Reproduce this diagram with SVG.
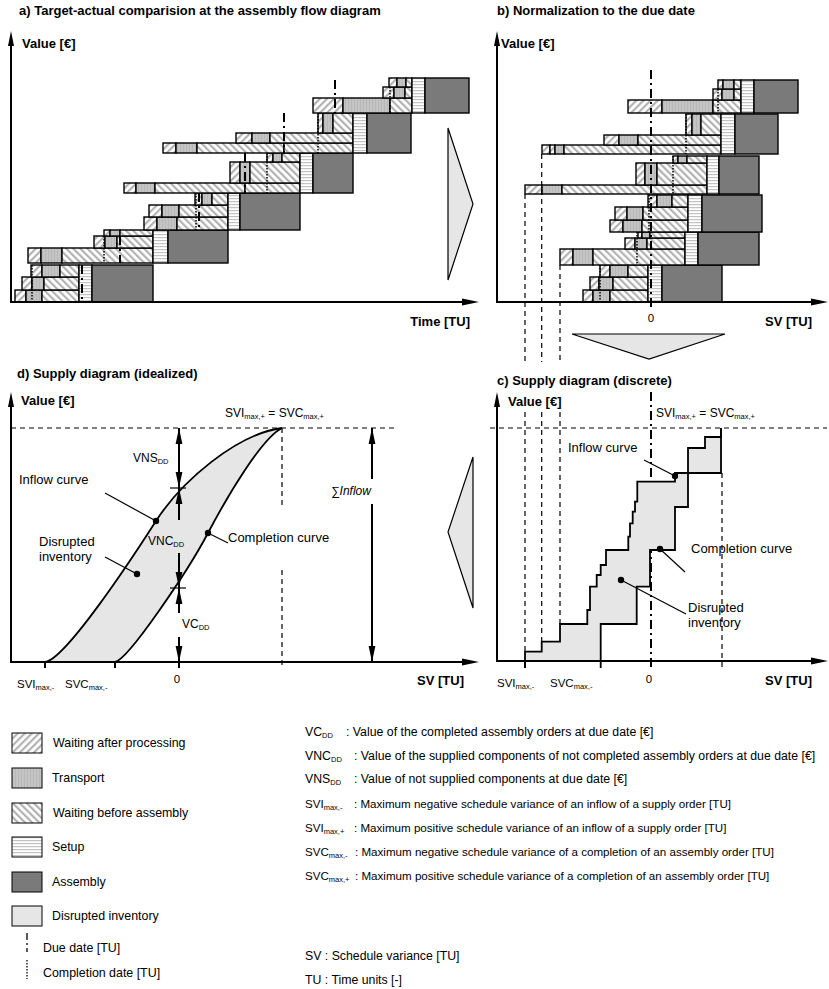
<svg xmlns="http://www.w3.org/2000/svg" width="829" height="989" viewBox="0 0 829 989">
<style>
text{font-family:"Liberation Sans",Arial,sans-serif;fill:#000}
.ttl{font-size:13px;font-weight:bold}
.ax{font-size:13px;font-weight:bold}
.lbl{font-size:13px}
.sm{font-size:12px}
.tk{font-size:11.5px}
.leg{font-size:12.4px}
.def{font-size:11.6px}
.defl{font-size:12.3px}
.sub{font-size:7.5px}
.axis{stroke:#000;stroke-width:2;fill:none}
.wa{fill:url(#pWA);stroke:#000;stroke-width:1.4}
.tr{fill:url(#pTR);stroke:#000;stroke-width:1.4}
.wb{fill:url(#pWB);stroke:#000;stroke-width:1.4}
.su{fill:url(#pSU);stroke:#000;stroke-width:1.4}
.as{fill:#7a7a7a;stroke:#000;stroke-width:1.4}
.inv{fill:#e6e6e6;stroke:#000;stroke-width:1.2}
.due{stroke:#000;stroke-width:2;stroke-dasharray:9 4 2 4;fill:none}
.cmp{stroke:#000;stroke-width:1.5;stroke-dasharray:1.5 1.5;fill:none}
.dash{stroke:#000;stroke-width:1.2;stroke-dasharray:5 4;fill:none}
.curve{stroke:#000;stroke-width:1.8;fill:none}
.lead{stroke:#000;stroke-width:1.2;fill:none}
.vln{stroke:#000;stroke-width:2;fill:none}
.tri{fill:#e6e6e6;stroke:#000;stroke-width:1.2}
</style>
<defs>
  <pattern id="pWA" width="5" height="5" patternUnits="userSpaceOnUse" patternTransform="rotate(45)">
    <rect width="5" height="5" fill="#fff"/><rect width="2.2" height="5" fill="#b2b2b2"/>
  </pattern>
  <pattern id="pWB" width="5" height="5" patternUnits="userSpaceOnUse" patternTransform="rotate(-45)">
    <rect width="5" height="5" fill="#fff"/><rect width="2.2" height="5" fill="#b2b2b2"/>
  </pattern>
  <pattern id="pTR" width="3" height="3" patternUnits="userSpaceOnUse">
    <rect width="3" height="3" fill="#c4c4c4"/><rect width="1" height="3" fill="#b8b8b8"/>
  </pattern>
  <pattern id="pSU" width="3" height="3" patternUnits="userSpaceOnUse">
    <rect width="3" height="3" fill="#fff"/><rect width="3" height="1.2" fill="#c2c2c2"/>
  </pattern>
  <marker id="ah" viewBox="0 0 16 8" refX="16" refY="4" markerWidth="16" markerHeight="8" markerUnits="userSpaceOnUse" orient="auto-start-reverse">
    <path d="M0,0.6 L16,4 L0,7.4 z" fill="#000"/>
  </marker>
</defs>
<rect width="829" height="989" fill="#fff"/>

<!-- a) assembly flow diagram -->
<g id="panel-a">
  <text class="ttl" x="19" y="15">a) Target-actual comparision at the assembly flow diagram</text>
  <text class="ax" x="22" y="48">Value [€]</text>
  <text class="ax" x="470" y="326" text-anchor="end">Time [TU]</text>
  <g id="a-order-1">
    <rect class="wa" x="15" y="290" width="11" height="12"/><rect class="tr" x="26" y="290" width="16" height="12"/><rect class="wb" x="42" y="290" width="37" height="12"/>
    <rect class="wa" x="22" y="277" width="10" height="13"/><rect class="tr" x="32" y="277" width="12" height="13"/><rect class="wb" x="44" y="277" width="35" height="13"/>
    <rect class="wa" x="31" y="265" width="11" height="12"/><rect class="tr" x="42" y="265" width="18" height="12"/><rect class="wb" x="60" y="265" width="19" height="12"/>
    <rect class="su" x="79" y="265" width="13" height="37"/><rect class="as" x="92" y="265" width="61" height="37"/>
    <line class="cmp" x1="32" y1="265" x2="32" y2="302"/><line class="due" x1="82" y1="265" x2="82" y2="302"/>
  </g>
  <g id="a-order-2">
    <rect class="wa" x="28" y="248" width="13" height="15"/><rect class="tr" x="41" y="248" width="21" height="15"/><rect class="wb" x="62" y="248" width="91" height="15"/>
    <rect class="wa" x="94" y="236" width="11" height="12"/><rect class="tr" x="105" y="236" width="12" height="12"/><rect class="wb" x="117" y="236" width="36" height="12"/>
    <rect class="wa" x="104" y="230" width="6" height="6"/><rect class="tr" x="110" y="230" width="10" height="6"/><rect class="wb" x="120" y="230" width="33" height="6"/>
    <rect class="su" x="153" y="230" width="15" height="33"/><rect class="as" x="168" y="230" width="60" height="33"/>
    <line class="cmp" x1="104" y1="236" x2="104" y2="263"/><line class="due" x1="120" y1="236" x2="120" y2="263"/>
  </g>
  <g id="a-order-3">
    <rect class="wa" x="144" y="217" width="13" height="13"/><rect class="tr" x="157" y="217" width="20" height="13"/><rect class="wb" x="177" y="217" width="51" height="13"/>
    <rect class="wa" x="149" y="205" width="13" height="12"/><rect class="tr" x="162" y="205" width="17" height="12"/><rect class="wb" x="179" y="205" width="49" height="12"/>
    <rect class="wa" x="195" y="193" width="7" height="12"/><rect class="tr" x="202" y="193" width="10" height="12"/><rect class="wb" x="212" y="193" width="16" height="12"/>
    <rect class="su" x="228" y="193" width="12" height="37"/><rect class="as" x="240" y="193" width="60" height="37"/>
    <line class="cmp" x1="196" y1="193" x2="196" y2="230"/><line class="due" x1="199" y1="193" x2="199" y2="230"/>
  </g>
  <g id="a-order-4">
    <rect class="wa" x="124" y="183" width="12" height="10"/><rect class="tr" x="136" y="183" width="19" height="10"/><rect class="wb" x="155" y="183" width="90" height="10"/><rect class="wb" x="245" y="183" width="55" height="10"/>
    <rect class="wa" x="230" y="162" width="10" height="21"/><rect class="tr" x="240" y="162" width="10" height="21"/><rect class="wb" x="250" y="162" width="50" height="21"/>
    <rect class="wa" x="267" y="153" width="6" height="9"/><rect class="tr" x="273" y="153" width="9" height="9"/><rect class="wb" x="282" y="153" width="18" height="9"/>
    <rect class="su" x="300" y="153" width="13" height="40"/><rect class="as" x="313" y="153" width="40" height="40"/>
    <line class="due" x1="245" y1="153" x2="245" y2="193"/><line class="cmp" x1="267" y1="153" x2="267" y2="193"/>
  </g>
  <g id="a-order-5">
    <rect class="wa" x="163" y="143" width="13" height="10"/><rect class="tr" x="176" y="143" width="21" height="10"/><rect class="wb" x="197" y="143" width="87" height="10"/><rect class="wb" x="284" y="143" width="69" height="10"/>
    <rect class="wa" x="236" y="133" width="16" height="10"/><rect class="tr" x="252" y="133" width="18" height="10"/><rect class="wb" x="270" y="133" width="83" height="10"/>
    <rect class="wa" x="318" y="113" width="5" height="20"/><rect class="tr" x="323" y="113" width="10" height="20"/><rect class="wb" x="333" y="113" width="20" height="20"/>
    <rect class="su" x="353" y="113" width="14" height="40"/><rect class="as" x="367" y="113" width="44" height="40"/>
    <line class="due" x1="284" y1="113" x2="284" y2="153"/><line class="cmp" x1="318" y1="113" x2="318" y2="153"/>
  </g>
  <g id="a-order-6">
    <rect class="wa" x="313" y="98" width="30" height="15"/><rect class="tr" x="343" y="98" width="47" height="15"/><rect class="wb" x="390" y="98" width="22" height="15"/>
    <rect class="wa" x="383" y="87" width="11" height="11"/><rect class="tr" x="394" y="87" width="11" height="11"/><rect class="wb" x="405" y="87" width="7" height="11"/>
    <rect class="wa" x="389" y="78" width="8" height="9"/><rect class="tr" x="397" y="78" width="9" height="9"/><rect class="wb" x="406" y="78" width="6" height="9"/>
    <rect class="su" x="412" y="78" width="13" height="35"/><rect class="as" x="425" y="78" width="44" height="35"/>
    <line class="due" x1="335" y1="80" x2="335" y2="113"/><line class="cmp" x1="390" y1="87" x2="390" y2="113"/>
  </g>
  <line class="axis" x1="11" y1="302" x2="11" y2="42"/>
  <polygon points="11,31 8,46 14,46"/>
  <line class="axis" x1="10" y1="302" x2="464" y2="302"/>
  <polygon points="479,302 462,298.5 462,305.5"/>
</g>

<!-- b) normalised to due date -->
<g id="panel-b">
  <text class="ttl" x="497" y="15">b) Normalization to the due date</text>
  <text class="ax" x="501" y="48">Value [€]</text>
  <text class="tk" x="651" y="322" text-anchor="middle">0</text>
  <text class="ax" x="812" y="326" text-anchor="end">SV [TU]</text>
  <g id="b-order-1">
    <rect class="wa" x="583" y="290" width="10" height="12"/><rect class="tr" x="593" y="290" width="17" height="12"/><rect class="wb" x="610" y="290" width="38" height="12"/>
    <rect class="wa" x="590" y="277" width="9" height="13"/><rect class="tr" x="599" y="277" width="14" height="13"/><rect class="wb" x="613" y="277" width="35" height="13"/>
    <rect class="wa" x="600" y="265" width="10" height="12"/><rect class="tr" x="610" y="265" width="18" height="12"/><rect class="wb" x="628" y="265" width="20" height="12"/>
    <rect class="su" x="648" y="265" width="14" height="37"/><rect class="as" x="662" y="265" width="60" height="37"/>
    <line class="cmp" x1="600" y1="265" x2="600" y2="302"/>
  </g>
  <g id="b-order-2">
    <rect class="wa" x="560" y="249" width="13" height="16"/><rect class="tr" x="573" y="249" width="20" height="16"/><rect class="wb" x="593" y="249" width="92" height="16"/>
    <rect class="wa" x="625" y="238" width="10" height="11"/><rect class="tr" x="635" y="238" width="12" height="11"/><rect class="wb" x="647" y="238" width="38" height="11"/>
    <rect class="wa" x="638" y="232" width="4" height="6"/><rect class="tr" x="642" y="232" width="8" height="6"/><rect class="wb" x="650" y="232" width="35" height="6"/>
    <rect class="su" x="685" y="232" width="13" height="33"/><rect class="as" x="698" y="232" width="61" height="33"/>
    <line class="cmp" x1="637" y1="232" x2="637" y2="265"/>
  </g>
  <g id="b-order-3">
    <rect class="wa" x="610" y="220" width="13" height="12"/><rect class="tr" x="623" y="220" width="19" height="12"/><rect class="wb" x="642" y="220" width="46" height="12"/>
    <rect class="wa" x="615" y="207" width="12" height="13"/><rect class="tr" x="627" y="207" width="16" height="13"/><rect class="wb" x="643" y="207" width="45" height="13"/>
    <rect class="wa" x="648" y="195" width="9" height="12"/><rect class="tr" x="657" y="195" width="15" height="12"/><rect class="wb" x="672" y="195" width="16" height="12"/>
    <rect class="su" x="688" y="195" width="14" height="37"/><rect class="as" x="702" y="195" width="60" height="37"/>
    <line class="cmp" x1="649" y1="195" x2="649" y2="232"/>
  </g>
  <g id="b-order-4">
    <rect class="wa" x="525" y="185" width="17" height="9"/><rect class="tr" x="542" y="185" width="20" height="9"/><rect class="wb" x="562" y="185" width="145" height="9"/>
    <rect class="wa" x="636" y="163" width="9" height="22"/><rect class="tr" x="645" y="163" width="12" height="22"/><rect class="wb" x="657" y="163" width="50" height="22"/>
    <rect class="wa" x="673" y="156" width="5" height="7"/><rect class="tr" x="678" y="156" width="9" height="7"/><rect class="wb" x="687" y="156" width="20" height="7"/>
    <rect class="su" x="707" y="156" width="12" height="38"/><rect class="as" x="719" y="156" width="40" height="38"/>
    <line class="cmp" x1="673" y1="156" x2="673" y2="194"/>
  </g>
  <g id="b-order-5">
    <rect class="wa" x="542" y="145" width="8" height="9"/><rect class="wa" x="550" y="145" width="5" height="9"/><rect class="tr" x="555" y="145" width="9" height="9"/><rect class="wb" x="564" y="145" width="157" height="9"/>
    <rect class="wa" x="604" y="135" width="15" height="10"/><rect class="tr" x="619" y="135" width="19" height="10"/><rect class="wb" x="638" y="135" width="83" height="10"/>
    <rect class="wa" x="686" y="114" width="6" height="21"/><rect class="tr" x="692" y="114" width="9" height="21"/><rect class="wb" x="701" y="114" width="20" height="21"/>
    <rect class="su" x="721" y="114" width="14" height="40"/><rect class="as" x="735" y="114" width="43" height="40"/>
    <line class="cmp" x1="686" y1="114" x2="686" y2="154"/>
  </g>
  <g id="b-order-6">
    <rect class="wa" x="628" y="100" width="34" height="13"/><rect class="tr" x="662" y="100" width="51" height="13"/><rect class="wb" x="713" y="100" width="28" height="13"/>
    <rect class="wa" x="713" y="89" width="9" height="11"/><rect class="tr" x="722" y="89" width="12" height="11"/><rect class="wb" x="734" y="89" width="7" height="11"/>
    <rect class="wa" x="718" y="80" width="5" height="9"/><rect class="tr" x="723" y="80" width="11" height="9"/><rect class="wb" x="734" y="80" width="7" height="9"/>
    <rect class="su" x="741" y="80" width="13" height="33"/><rect class="as" x="754" y="80" width="44" height="33"/>
    <line class="cmp" x1="718" y1="89" x2="718" y2="113"/>
  </g>
  <line class="due" x1="651" y1="70" x2="651" y2="310"/>
  <line class="axis" x1="497" y1="302" x2="497" y2="42"/>
  <polygon points="497,31 494,46 500,46"/>
  <line class="axis" x1="496" y1="302" x2="813" y2="302"/>
  <polygon points="828,302 811,298.5 811,305.5"/>
</g>

<!-- c) discrete supply diagram -->
<g id="panel-c">
  <text class="ttl" x="497" y="385">c) Supply diagram (discrete)</text>
  <line class="dash" x1="490" y1="428" x2="827" y2="428"/>
  <line class="dash" x1="722" y1="473" x2="722" y2="668"/>
  <line class="due" x1="651" y1="392" x2="651" y2="668"/>
  <path class="inv" d="M525,661 V651.7 H541.7 V641.7 H560 V624 H587.3 V610 H590 V586.7 H596.7 V575 H600.7 V565 H606 V550 H628.3 V536.7 H630 V523.3 H632.7 V511.7 H635 V501.7 H637.3 V481.7 H675 V473 H688 V448 H705 V437 H721 V428 V473 H688 V507 H675 V550 H650 V586.7 H636.7 V624 H600.7 V661 Z" style="stroke:none"/>
  <path class="curve" id="c-inflow" d="M525,661 V651.7 H541.7 V641.7 H560 V624 H587.3 V610 H590 V586.7 H596.7 V575 H600.7 V565 H606 V550 H628.3 V536.7 H630 V523.3 H632.7 V511.7 H635 V501.7 H637.3 V481.7 H675 V473 H688 V448 H705 V437 H721 V428"/>
  <path class="curve" id="c-completion" d="M600.7,668 V624 H636.7 V586.7 H650 V550 H675 V507 H688 V473 H721 V428"/>
  <line class="vln" x1="525" y1="661" x2="525" y2="668"/>
  <text class="ax" x="508" y="406">Value [€]</text>
  <text class="sm" x="656" y="417">SVI<tspan class="sub" dy="2">max,+</tspan><tspan dy="-2"> = SVC</tspan><tspan class="sub" dy="2">max,+</tspan></text>
  <g id="c-label-inflow">
    <text class="lbl" x="568" y="452">Inflow curve</text>
    <line class="lead" x1="644" y1="460" x2="675" y2="476"/><circle cx="675" cy="476" r="3.2"/>
  </g>
  <g id="c-label-completion">
    <text class="lbl" x="691" y="553">Completion curve</text>
    <line class="lead" x1="660" y1="549" x2="685" y2="572"/><circle cx="660" cy="549" r="3.2"/>
  </g>
  <g id="c-label-inventory">
    <text class="lbl" x="688" y="612">Disrupted</text>
    <text class="lbl" x="688" y="627">inventory</text>
    <line class="lead" x1="621" y1="580" x2="686" y2="614"/><circle cx="621" cy="580" r="3.2"/>
  </g>
  <line class="axis" x1="497" y1="661" x2="497" y2="403"/>
  <polygon points="497,392 494,407 500,407"/>
  <line class="axis" x1="496" y1="661" x2="813" y2="661"/>
  <polygon points="828,661 811,657.5 811,664.5"/>
  <text class="tk" x="497" y="687">SVI<tspan class="sub" dy="2">max,-</tspan></text>
  <text class="tk" x="550" y="687">SVC<tspan class="sub" dy="2">max,-</tspan></text>
  <text class="tk" x="649" y="683" text-anchor="middle">0</text>
  <text class="ax" x="812" y="685" text-anchor="end">SV [TU]</text>
</g>

<!-- d) idealized supply diagram -->
<g id="panel-d">
  <text class="ttl" x="17" y="378">d) Supply diagram (idealized)</text>
  <text class="ax" x="21" y="405">Value [€]</text>
  <text class="sm" x="225" y="417">SVI<tspan class="sub" dy="2">max,+</tspan><tspan dy="-2"> = SVC</tspan><tspan class="sub" dy="2">max,+</tspan></text>
  <line class="dash" x1="11" y1="428" x2="398" y2="428"/>
  <line class="dash" x1="282" y1="428" x2="282" y2="508"/>
  <line class="dash" x1="282" y1="570" x2="282" y2="667"/>
  <path class="inv" style="stroke:none" d="M45,662 C65,660 131,560 156,521 C181,482 236,434 282,428 C262,438 228,495 208,533 C188,571 128,660 115,662 Z"/>
  <path class="curve" id="d-inflow" d="M45,662 C65,660 131,560 156,521 C181,482 236,434 282,428"/>
  <path class="curve" id="d-completion" d="M115,662 C128,660 188,571 208,533 C228,495 262,438 282,428"/>
  <g id="d-due-arrows">
    <line class="vln" x1="179" y1="428" x2="179" y2="488" marker-start="url(#ah)" marker-end="url(#ah)"/>
    <line class="vln" x1="179" y1="488" x2="179" y2="520" marker-start="url(#ah)"/>
    <line class="vln" x1="179" y1="553" x2="179" y2="588" marker-end="url(#ah)"/>
    <line class="vln" x1="179" y1="588" x2="179" y2="613" marker-start="url(#ah)"/>
    <line class="vln" x1="179" y1="637" x2="179" y2="662" marker-end="url(#ah)"/>
    <line class="vln" x1="179" y1="662" x2="179" y2="668"/>
    <line class="lead" x1="170" y1="488" x2="186" y2="488"/>
    <line class="lead" x1="170" y1="588" x2="186" y2="588"/>
    <text class="sm" x="133" y="462">VNS<tspan class="sub" dy="2">DD</tspan></text>
    <text class="sm" x="148" y="545">VNC<tspan class="sub" dy="2">DD</tspan></text>
    <text class="sm" x="182" y="628">VC<tspan class="sub" dy="2">DD</tspan></text>
  </g>
  <g id="d-sum-inflow">
    <line class="vln" x1="372" y1="428" x2="372" y2="479" marker-start="url(#ah)"/>
    <line class="vln" x1="372" y1="504" x2="372" y2="662" marker-end="url(#ah)"/>
    <text class="sm" x="331" y="495" font-style="italic">∑Inflow</text>
  </g>
  <g id="d-label-inflow">
    <text class="lbl" x="19" y="484">Inflow curve</text>
    <line class="lead" x1="105" y1="493" x2="156" y2="521"/><circle cx="156" cy="521" r="3.2"/>
  </g>
  <g id="d-label-completion">
    <text class="lbl" x="228" y="542">Completion curve</text>
    <line class="lead" x1="208" y1="533" x2="228" y2="543"/><circle cx="208" cy="533" r="3.2"/>
  </g>
  <g id="d-label-inventory">
    <text class="lbl" x="39" y="546">Disrupted</text>
    <text class="lbl" x="39" y="561">inventory</text>
    <line class="lead" x1="105" y1="557" x2="137" y2="574"/><circle cx="137" cy="574" r="3.2"/>
  </g>
  <line class="vln" x1="45" y1="662" x2="45" y2="668"/>
  <line class="vln" x1="115" y1="662" x2="115" y2="668"/>
  <line class="axis" x1="11" y1="662" x2="11" y2="403"/>
  <polygon points="11,392 8,407 14,407"/>
  <line class="axis" x1="10" y1="662" x2="464" y2="662"/>
  <polygon points="479,662 462,658.5 462,665.5"/>
  <text class="tk" x="17" y="688">SVI<tspan class="sub" dy="2">max,-</tspan></text>
  <text class="tk" x="65" y="688">SVC<tspan class="sub" dy="2">max,-</tspan></text>
  <text class="tk" x="177" y="683" text-anchor="middle">0</text>
  <text class="ax" x="464" y="685" text-anchor="end">SV [TU]</text>
</g>

<!-- transitions between the panels and projection lines -->
<g id="connectors">
  <polygon class="tri" points="448,128 473,204 448,280"/>
  <polygon class="tri" points="572,334 725,334 649,359"/>
  <polygon class="tri" points="473,457 448,532 473,608"/>
  <line class="dash" x1="525" y1="194" x2="525" y2="362"/>
  <line class="dash" x1="541.7" y1="154" x2="541.7" y2="362"/>
  <line class="dash" x1="560" y1="265" x2="560" y2="362"/>
  <line class="dash" x1="525" y1="412" x2="525" y2="652"/>
  <line class="dash" x1="541.7" y1="412" x2="541.7" y2="642"/>
  <line class="dash" x1="560" y1="412" x2="560" y2="624"/>
</g>

<!-- legend -->
<g id="legend">
  <rect class="wa" x="12" y="733" width="30" height="20" style="stroke-width:1"/>
  <text class="leg" x="53" y="747">Waiting after processing</text>
  <rect class="tr" x="12" y="768" width="30" height="20" style="stroke-width:1"/>
  <text class="leg" x="52" y="782">Transport</text>
  <rect class="wb" x="12" y="803" width="30" height="20" style="stroke-width:1"/>
  <text class="leg" x="53" y="817">Waiting before assembly</text>
  <rect class="su" x="12" y="837" width="30" height="20" style="stroke-width:1"/>
  <text class="leg" x="52" y="851">Setup</text>
  <rect class="as" x="12" y="872" width="30" height="20" style="stroke-width:1"/>
  <text class="leg" x="52" y="886">Assembly</text>
  <rect class="inv" x="12" y="906" width="30" height="20" style="stroke-width:1"/>
  <text class="leg" x="52" y="920">Disrupted inventory</text>
  <line x1="27" y1="933" x2="27" y2="952" style="stroke:#000;stroke-width:1.3;stroke-dasharray:7 3 2 3"/>
  <text class="leg" x="43" y="952">Due date [TU]</text>
  <line x1="27" y1="960" x2="27" y2="979" style="stroke:#000;stroke-width:1.3;stroke-dasharray:1.5 1.5"/>
  <text class="leg" x="43" y="977">Completion date [TU]</text>
</g>

<!-- abbreviations -->
<g id="abbreviations">
  <text class="defl" x="305" y="736">VC<tspan class="sub" dy="2">DD</tspan></text>
  <text class="defl" x="346" y="736">: Value of the completed assembly orders at due date [€]</text>
  <text class="defl" x="305" y="760">VNC<tspan class="sub" dy="2">DD</tspan></text>
  <text class="defl" x="354" y="760">: Value of the supplied components of not completed assembly orders at due date [€]</text>
  <text class="defl" x="305" y="783">VNS<tspan class="sub" dy="2">DD</tspan></text>
  <text class="defl" x="354" y="783">: Value of not supplied components at due date [€]</text>
  <text class="def" x="305" y="808">SVI<tspan class="sub" dy="2">max,-</tspan></text>
  <text class="def" x="354" y="808">: Maximum negative schedule variance of an inflow of a supply order [TU]</text>
  <text class="def" x="305" y="832">SVI<tspan class="sub" dy="2">max,+</tspan></text>
  <text class="def" x="354" y="832">: Maximum positive schedule variance of an inflow of a supply order [TU]</text>
  <text class="def" x="305" y="856">SVC<tspan class="sub" dy="2">max,-</tspan></text>
  <text class="def" x="355" y="856">: Maximum negative schedule variance of a completion of an assembly order [TU]</text>
  <text class="def" x="305" y="880">SVC<tspan class="sub" dy="2">max,+</tspan></text>
  <text class="def" x="355" y="880">: Maximum positive schedule variance of a completion of an assembly order [TU]</text>
  <text class="defl" x="305" y="960">SV : Schedule variance [TU]</text>
  <text class="defl" x="305" y="984">TU : Time units [-]</text>
</g>
</svg>
